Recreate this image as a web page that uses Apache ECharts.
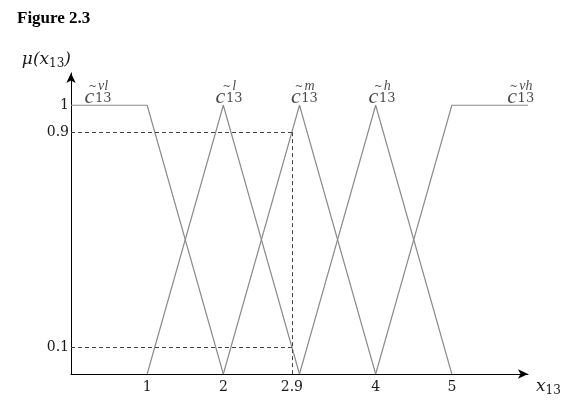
<!DOCTYPE html>
<html>
<head>
<meta charset="utf-8">
<script src="https://cdn.jsdelivr.net/npm/echarts@6/dist/echarts.min.js"></script>
<style>
  html, body { margin: 0; padding: 0; background: #fff; }
  #chart { width: 570px; height: 401px; }
</style>
</head>
<body>
<div id="chart"></div>
<script>
// membership functions of x13 (breakpoints)
var veryLow  = [[0, 1], [1, 1], [2, 0]];
var low      = [[1, 0], [2, 1], [3, 0]];
var medium   = [[2, 0], [3, 1], [4, 0]];
var high     = [[3, 0], [4, 1], [5, 0]];
var veryHigh = [[4, 0], [5, 1], [6, 1]];

var setNames = ['vl', 'l', 'm', 'h', 'vh'];
var setLabelAt = [[0.35, 1.04], [2.07, 1.04], [3.06, 1.04], [4.08, 1.04], [5.9, 1.04]];

var xTicks = [1, 2, 2.9, 4, 5];
var yTicks = [0.1, 0.9, 1];

// cut at x = 2.9
var cutX = 2.9;
var cutLevels = [0.9, 0.1];

var serif = 'DejaVu Serif';
var lib = 'Liberation Serif';
var lineColor = '#8c8c8c';
var ink = '#1a1a1a';

function mfSeries(data) {
  return {
    type: 'line',
    data: data,
    symbol: 'none',
    silent: true,
    lineStyle: { color: lineColor, width: 1.2 }
  };
}

var guides = [];
cutLevels.forEach(function (lv) {
  guides.push([{ coord: [0, lv] }, { coord: [cutX, lv] }]);
});
guides.push([{ coord: [cutX, cutLevels[0]] }, { coord: [cutX, 0] }]);

var series = [veryLow, low, medium, high, veryHigh].map(mfSeries);
series[0].markLine = {
  silent: true,
  symbol: 'none',
  label: { show: false },
  lineStyle: { color: '#444', type: [4, 3], width: 1 },
  data: guides
};

series.push({
  type: 'scatter',
  symbolSize: 0,
  silent: true,
  data: setLabelAt.map(function (p, i) { return [p[0], p[1], setNames[i]]; }),
  label: {
    show: true,
    position: 'inside',
    formatter: function (p) {
      return '{t|~}{sup|' + p.data[2] + '}\n{c|c}{sub|13}';
    },
    rich: {
      t: { fontFamily: serif, fontSize: 10, width: 11, align: 'center', lineHeight: 5, color: ink },
      sup: { fontFamily: lib, fontStyle: 'italic', fontSize: 14, lineHeight: 5, color: ink },
      c: { fontFamily: lib, fontStyle: 'italic', fontSize: 22, width: 11, lineHeight: 16, color: ink },
      sub: { fontFamily: serif, fontSize: 13, lineHeight: 16, verticalAlign: 'bottom', color: ink }
    }
  }
});

var option = {
  animation: false,
  backgroundColor: '#fff',
  title: {
    text: 'Figure 2.3',
    left: 12,
    top: 5,
    textStyle: { fontFamily: lib, fontWeight: 'bold', fontSize: 17, color: '#000' }
  },
  grid: { left: 71, right: 42, top: 73, bottom: 27 },
  xAxis: {
    type: 'value',
    min: 0,
    max: 6,
    name: '{x|x}{s|13}',
    nameLocation: 'end',
    nameGap: 8,
    nameTextStyle: {
      verticalAlign: 'top',
      padding: [3, 0, 0, 0],
      rich: {
        x: { fontFamily: serif, fontStyle: 'italic', fontSize: 17, color: ink },
        s: { fontFamily: serif, fontSize: 12, color: ink, padding: [8, 0, 0, 0] }
      }
    },
    axisLine: { lineStyle: { color: '#000', width: 1 }, symbol: ['none', 'arrow'], symbolSize: [7, 10] },
    axisTick: { show: false },
    splitLine: { show: false },
    axisLabel: {
      customValues: xTicks,
      margin: 6,
      fontFamily: serif,
      fontSize: 14,
      color: ink,
      formatter: function (v) { return String(v); }
    }
  },
  yAxis: {
    type: 'value',
    min: 0,
    max: 1.12,
    name: '{m|μ(}{x|x}{s|13}{m|)}',
    nameLocation: 'end',
    nameGap: 3,
    nameTextStyle: {
      align: 'right',
      rich: {
        m: { fontFamily: serif, fontStyle: 'italic', fontSize: 17, color: ink },
        x: { fontFamily: serif, fontStyle: 'italic', fontSize: 17, color: ink },
        s: { fontFamily: serif, fontSize: 12, color: ink, padding: [8, 0, 0, 0] }
      }
    },
    axisLine: { show: true, lineStyle: { color: '#000', width: 1 }, symbol: ['none', 'arrow'], symbolSize: [7, 10] },
    axisTick: { show: false },
    splitLine: { show: false },
    axisLabel: {
      customValues: yTicks,
      margin: 2,
      fontFamily: serif,
      fontSize: 14,
      color: ink,
      formatter: function (v) { return String(v); }
    }
  },
  series: series
};

var myChart = echarts.init(document.getElementById('chart'));
myChart.setOption(option);
</script>
</body>
</html>
